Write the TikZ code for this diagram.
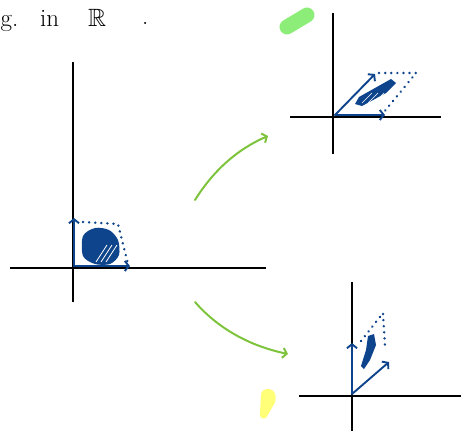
\documentclass[tikz,border=0pt]{standalone}
\usepackage{amssymb}
\usetikzlibrary{arrows.meta}
\definecolor{inkblue}{RGB}{14,68,140}
\definecolor{arcgreen}{RGB}{125,196,60}
\definecolor{hlgreen}{RGB}{140,238,120}
\definecolor{hlyellow}{RGB}{255,255,120}
\begin{document}
\begin{tikzpicture}[x=1pt,y=-1pt,>={Straight Barb[length=4pt,width=10pt]},
  axis/.style={line width=2.2pt,black},
  vec/.style={->,line width=1.9pt,inkblue,line cap=round},
  ghost/.style={inkblue,line width=2.6pt,line cap=round,dash pattern=on 0.1pt off 6pt},
  map/.style={->,line width=2pt,arcgreen,line cap=round},
  hand/.style={font=\fontsize{25}{28}\selectfont,anchor=base west,inner sep=0pt}]
\useasboundingbox (0,0) rectangle (461,431);
\node[hand] (eg) at (0.5,26) {g.};
\node[hand] (in) at (40,26) {in};
\node[hand] (reals) at (88,26) {$\mathbb{R}$};
\node[hand] (stop) at (142,24) {.};
% unit square
\draw[axis] (10,268)--(266,268);
\draw[axis] (73,62)--(73,302);
\fill[inkblue] plot[smooth cycle] coordinates {(83,236) (95,228) (109,230) (118,240) (119,255) (110,264) (95,264) (83,256)};
\foreach \s in {0,5,10}{
    \draw[white,line width=0.8pt] (96+\s,262)--(107+\s,245);
}
\draw[vec] (74,266)--(74,218);
\draw[vec] (74,266)--(130,266);
\draw[ghost] (83,222)--(118,224)--(128,264);
% first image
\draw[hlgreen,line width=15pt,line cap=round] (287,27)--(307,15);
\draw[axis] (290,117)--(441,117);
\draw[axis] (333,13)--(333,154);
\fill[inkblue] (355,104)--(359,97)--(391,79)--(396,83)--(386,93)--(362,106)--cycle;
\foreach \s in {0,6,12}{
    \draw[white,line width=0.6pt] (362+\s,103)--(372+\s,93);
}
\draw[vec] (335,115)--(385,115);
\draw[vec] (335,115)--(375,74);
\draw[ghost] (379,73)--(416,73)--(384,112);
% second image
\fill[hlyellow] (268,389) .. controls (276,389) and (278,399) .. (273,406)
    -- (266,418) .. controls (262,420) and (259,417) .. (260,412)
    -- (261,395) .. controls (261,391) and (264,389) .. (268,389);
\draw[axis] (299,396)--(461,396);
\draw[axis] (352,282)--(352,431);
\fill[inkblue] (368,336)--(374,334)--(376,345)--(370,360)--(364,369)--(361,366)--(366,350)--cycle;
\draw[vec] (352,394)--(352,343);
\draw[vec] (352,394)--(389,362);
\draw[ghost] (361,341)--(383,313)--(385,346);
% the two maps
\draw[map] (195,200) .. controls (215,168) and (240,148) .. (268,136);
\draw[map] (195,302) .. controls (215,325) and (245,345) .. (288,354);
\end{tikzpicture}
\end{document}
